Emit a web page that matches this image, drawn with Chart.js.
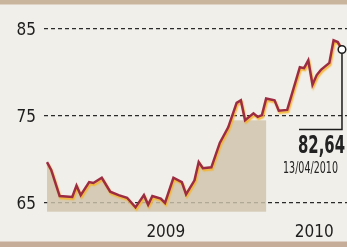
<!DOCTYPE html>
<html>
<head>
<meta charset="utf-8">
<script src="https://cdn.jsdelivr.net/npm/chart.js@4.4.1/dist/chart.umd.min.js"></script>
<style>
    html, body {
        margin: 0;
        padding: 0;
        width: 347px;
        height: 247px;
        overflow: hidden;
        background: linear-gradient(to bottom,
            #c9b59d 0px, #c9b59d 4px,
            #f1efea 5px, #f1efea 241px,
            #c6ad9a 242px, #c6ad9a 247px);
    }
    #wrap { position: absolute; left: 0; top: 0; width: 347px; height: 247px; }
</style>
</head>
<body>
<div id="wrap"><canvas id="chart" width="347" height="247"></canvas></div>
<script>
// weekly closes, week 0 = end of December 2008
const weeks = [0, 1, 3, 6, 7, 8, 10, 11, 13, 15, 17, 19, 21, 23, 24, 25, 27, 28, 30, 32,
    33, 35, 36, 37, 39, 41, 43, 45, 46, 47, 49, 50, 51, 52, 54, 55, 57, 60, 61, 62,
    63, 64, 65, 67, 68, 69, 70];
const closes = [69.7, 68.8, 65.8, 65.7, 67.0, 65.9, 67.4, 67.3, 67.9, 66.3, 65.9, 65.6, 64.5, 65.9, 64.8, 65.8, 65.5, 65.0, 67.9, 67.4,
    66.0, 67.6, 69.7, 69.0, 69.1, 71.9, 73.7, 76.5, 76.8, 74.5, 75.3, 74.9, 75.1, 77.0, 76.8, 75.6, 75.7, 80.6, 80.5, 81.4,
    78.6, 79.7, 80.3, 81.1, 83.7, 83.5, 82.64];

const yTicks = [65, 75, 85];
const xTickValues = [28.2, 63.4];
const xTickLabels = ['2009', '2010'];

// shaded block for 2009 (weeks 0..52), cut under the curve
const bandFrom = 0;
const bandTo = 52;
const bandLow = 64;
const bandHigh = 74.5;

const lastValue = '82,64';
const lastDate = '13/04/2010';

const font = "'DejaVu Sans Condensed', 'DejaVu Sans', sans-serif";

const bandPlugin = {
    id: 'band',
    beforeDatasetsDraw(chart) {
        const ctx = chart.ctx;
        const x = chart.scales.x, y = chart.scales.y;
        const pts = chart.getDatasetMeta(0).data;
        ctx.save();
        ctx.beginPath();
        ctx.moveTo(pts[0].x, pts[0].y);
        pts.forEach(p => ctx.lineTo(p.x, p.y));
        ctx.lineTo(pts[pts.length - 1].x, chart.chartArea.bottom);
        ctx.lineTo(pts[0].x, chart.chartArea.bottom);
        ctx.closePath();
        ctx.clip();
        ctx.fillStyle = 'rgba(206, 195, 172, 0.82)';
        const x0 = x.getPixelForValue(bandFrom), x1 = x.getPixelForValue(bandTo);
        const y0 = y.getPixelForValue(bandHigh), y1 = y.getPixelForValue(bandLow);
        ctx.fillRect(x0, y0, x1 - x0, y1 - y0);
        ctx.restore();
    }
};

// yellow glow under the red line
const glowPlugin = {
    id: 'glow',
    beforeDatasetDraw(chart) {
        const ctx = chart.ctx;
        ctx.save();
        ctx.shadowColor = 'rgba(244, 178, 40, 0.95)';
        ctx.shadowOffsetX = 1;
        ctx.shadowOffsetY = 2;
        ctx.shadowBlur = 1.5;
    },
    afterDatasetDraw(chart) {
        chart.ctx.restore();
    }
};

const calloutPlugin = {
    id: 'callout',
    afterDatasetsDraw(chart) {
        const ctx = chart.ctx;
        const pts = chart.getDatasetMeta(0).data;
        const p = pts[pts.length - 1];
        ctx.save();
        ctx.strokeStyle = '#1c1c1c';
        ctx.lineWidth = 1.5;
        ctx.beginPath();
        ctx.moveTo(p.x, p.y + 4);
        ctx.lineTo(p.x, p.y + 80);
        ctx.lineTo(p.x - 43, p.y + 80);
        ctx.stroke();
        ctx.beginPath();
        ctx.arc(p.x, p.y, 3.8, 0, Math.PI * 2);
        ctx.fillStyle = '#ffffff';
        ctx.fill();
        ctx.stroke();

        // narrow newspaper type: squeeze with maxWidth
        ctx.fillStyle = '#222222';
        ctx.textAlign = 'left';
        ctx.textBaseline = 'alphabetic';
        ctx.font = "bold 25px " + font;
        ctx.fillText(lastValue, 298, 153, 47);
        ctx.font = "15px " + font;
        ctx.fillText(lastDate, 283, 173, 55);
        ctx.restore();
    }
};

new Chart(document.getElementById('chart'), {
    type: 'line',
    data: {
        datasets: [{
            data: weeks.map((w, i) => ({ x: w, y: closes[i] })),
            borderColor: '#9c2c42',
            borderWidth: 2.5,
            pointRadius: 0,
            tension: 0,
            fill: false
        }]
    },
    options: {
        responsive: false,
        animation: false,
        layout: { padding: { top: 20, right: 0, bottom: 0, left: 0 } },
        plugins: {
            legend: { display: false },
            tooltip: { enabled: false }
        },
        scales: {
            x: {
                type: 'linear',
                min: -0.71,
                max: 71.19,
                afterFit: s => { s.height = 30; },
                afterBuildTicks: s => { s.ticks = xTickValues.map(v => ({ value: v })); },
                grid: { display: false, drawTicks: false },
                border: { display: false },
                ticks: {
                    padding: 5,
                    color: '#1e1e1e',
                    font: { family: font, size: 17 },
                    maxRotation: 0,
                    autoSkip: false,
                    callback: (v, i) => xTickLabels[i]
                }
            },
            y: {
                min: 63.39,
                max: 86.03,
                afterFit: s => { s.width = 44; },
                afterBuildTicks: s => { s.ticks = yTicks.map(v => ({ value: v })); },
                grid: { color: '#2a2a2a', lineWidth: 1.2, drawTicks: false },
                border: { display: false, dash: [4, 3] },
                ticks: {
                    padding: 8,
                    labelOffset: 2,
                    color: '#1e1e1e',
                    font: { family: font, size: 17 }
                }
            }
        }
    },
    plugins: [bandPlugin, glowPlugin, calloutPlugin]
});
</script>
</body>
</html>
